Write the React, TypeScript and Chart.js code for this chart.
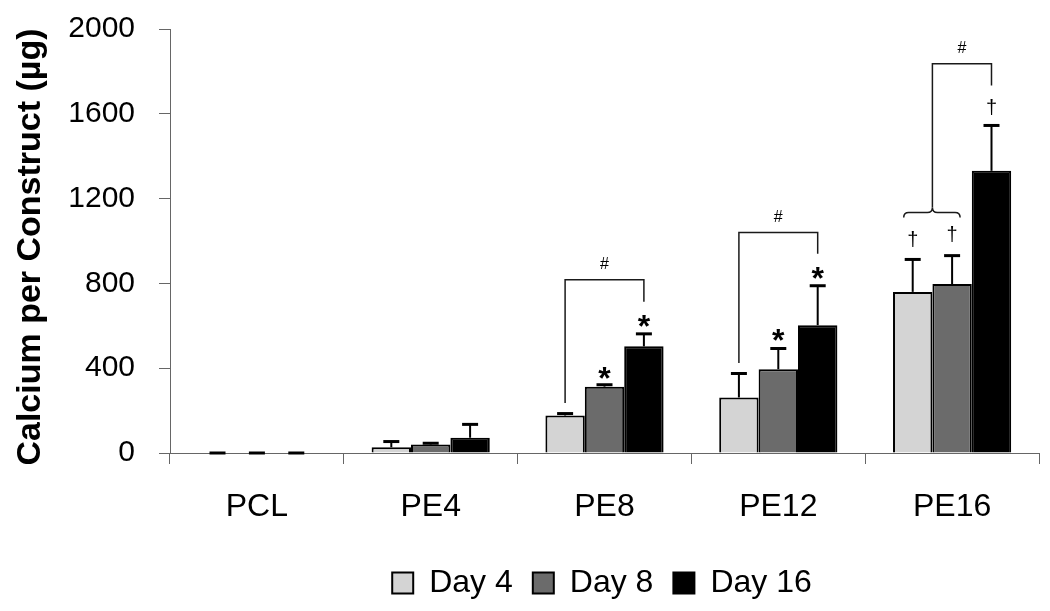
import React, { useEffect, useRef } from 'react';
import { Chart, registerables } from 'chart.js';

Chart.register(...registerables);

const categories = ['PCL', 'PE4', 'PE8', 'PE12', 'PE16'];
const seriesNames = ['Day 4', 'Day 8', 'Day 16'];
const day4 = [0, 27, 177, 262, 760];
const day8 = [0, 40, 313, 395, 797];
const day16 = [0, 72, 503, 603, 1331];
const day4Err = [0, 27, 9, 113, 153];
const day8Err = [0, 6, 9, 98, 134];
const day16Err = [0, 63, 59, 186, 214];
const yTicks = [0, 400, 800, 1200, 1600, 2000];
const yTitle = 'Calcium per Construct (µg)';

// significance brackets: category index, left series (one or two -> brace), right series, levels in µg
const brackets = [
  { category: 2, left: [0], right: 2, leftFrom: 236, rightFrom: 713, top: 817, label: '#' },
  { category: 3, left: [0], right: 2, leftFrom: 424, rightFrom: 940, top: 1040, label: '#' },
  { category: 4, left: [0, 1], right: 2, leftFrom: 1135, rightFrom: 1734, top: 1836, label: '#' },
];
// significance symbols above bars: category, series, symbol, centre level in µg
const marks = [
  { category: 2, series: 1, symbol: '*', level: 387 },
  { category: 2, series: 2, symbol: '*', level: 633 },
  { category: 3, series: 1, symbol: '*', level: 567 },
  { category: 3, series: 2, symbol: '*', level: 860 },
  { category: 4, series: 0, symbol: '†', level: 1011 },
  { category: 4, series: 1, symbol: '†', level: 1031 },
  { category: 4, series: 2, symbol: '†', level: 1632 },
];

const values = [day4, day8, day16];
const errors = [day4Err, day8Err, day16Err];
const fills = ['#d4d4d4', '#6b6b6b', '#000000'];
const FONT = "'Liberation Sans', Arial, sans-serif";

const overlayPlugin = {
  id: 'overlay',
  beforeDraw(chart: any) {
    // centre the legend under the plot area rather than the whole canvas
    const lg = chart.legend;
    const area = chart.chartArea;
    if (lg && area) {
      lg.left = area.left - 5;
      lg.right = area.right;
      lg.width = lg.right - lg.left;
    }
  },
  afterDatasetsDraw(chart: any) {
    const ctx = chart.ctx as CanvasRenderingContext2D;
    const ys = chart.scales.y;
    const bar = (s: number, c: number) => chart.getDatasetMeta(s).data[c] as any;
    ctx.save();
    ctx.strokeStyle = '#000';
    ctx.fillStyle = '#000';
    // error bars
    errors.forEach((errs, s) => {
      values[s].forEach((v, c) => {
        const el = bar(s, c);
        const yTop = ys.getPixelForValue(v + errs[c]);
        const yBase = ys.getPixelForValue(v);
        ctx.lineWidth = 2;
        ctx.beginPath();
        ctx.moveTo(el.x, yBase);
        ctx.lineTo(el.x, yTop);
        ctx.stroke();
        ctx.lineWidth = 3;
        ctx.beginPath();
        ctx.moveTo(el.x - 8, yTop);
        ctx.lineTo(el.x + 8, yTop);
        ctx.stroke();
      });
    });
    // brackets
    ctx.strokeStyle = '#1a1a1a';
    ctx.lineWidth = 1.5;
    brackets.forEach((b) => {
      const rx = bar(b.right, b.category).x;
      const yTopPx = ys.getPixelForValue(b.top);
      const yRight = ys.getPixelForValue(b.rightFrom);
      let lx: number;
      let yLeft: number;
      if (b.left.length === 2) {
        const a = bar(b.left[0], b.category);
        const d = bar(b.left[1], b.category);
        const x1 = a.x - 9;
        const x2 = d.x + 8;
        const mid = (a.x + d.x) / 2;
        const yb = ys.getPixelForValue(b.leftFrom);
        ctx.beginPath();
        ctx.moveTo(x1, yb + 5);
        ctx.quadraticCurveTo(x1, yb, x1 + 5, yb);
        ctx.lineTo(mid - 5, yb);
        ctx.quadraticCurveTo(mid, yb, mid, yb - 5);
        ctx.quadraticCurveTo(mid, yb, mid + 5, yb);
        ctx.lineTo(x2 - 5, yb);
        ctx.quadraticCurveTo(x2, yb, x2, yb + 5);
        ctx.stroke();
        lx = mid;
        yLeft = yb - 5;
      } else {
        lx = bar(b.left[0], b.category).x;
        yLeft = ys.getPixelForValue(b.leftFrom);
      }
      ctx.beginPath();
      ctx.moveTo(lx, yLeft);
      ctx.lineTo(lx, yTopPx);
      ctx.lineTo(rx, yTopPx);
      ctx.lineTo(rx, yRight);
      ctx.stroke();
      ctx.font = `16px ${FONT}`;
      ctx.textAlign = 'center';
      ctx.textBaseline = 'alphabetic';
      ctx.fillText(b.label, (lx + rx) / 2, yTopPx - 17 + 6);
    });
    // symbols
    marks.forEach((m) => {
      const el = bar(m.series, m.category);
      const yc = ys.getPixelForValue(m.level);
      ctx.textAlign = 'center';
      ctx.textBaseline = 'alphabetic';
      if (m.symbol === '*') {
        ctx.font = `bold 32px ${FONT}`;
        ctx.fillText(m.symbol, el.x, yc + 18);
      } else {
        ctx.font = `20px ${FONT}`;
        ctx.fillText(m.symbol, el.x, yc + 7);
      }
    });
    ctx.restore();
  },
  afterDraw(chart: any) {
    const ctx = chart.ctx as CanvasRenderingContext2D;
    const area = chart.chartArea;
    ctx.save();
    ctx.translate(40, (area.top + area.bottom) / 2 + 6);
    ctx.rotate(-Math.PI / 2);
    ctx.font = `bold 34px ${FONT}`;
    ctx.fillStyle = '#000';
    ctx.textAlign = 'center';
    ctx.textBaseline = 'alphabetic';
    ctx.fillText(yTitle, 0, 0);
    ctx.restore();
  },
};

export default function App() {
  const ref = useRef<HTMLCanvasElement | null>(null);
  useEffect(() => {
    document.body.style.margin = '0';
    if (!ref.current) return;
    const chart = new Chart(ref.current, {
      type: 'bar',
      data: {
        labels: categories,
        datasets: seriesNames.map((name, i) => ({
          label: name,
          data: values[i],
          backgroundColor: fills[i],
          borderColor: '#000',
          borderWidth: 2,
          borderSkipped: 'start' as const,
          categoryPercentage: 0.68,
          barPercentage: 1,
        })),
      },
      options: {
        responsive: false,
        animation: false,
        layout: { padding: { left: 55, right: 11, top: 29, bottom: 2 } },
        plugins: {
          tooltip: { enabled: false },
          legend: {
            position: 'bottom',
            labels: {
              boxWidth: 21,
              boxHeight: 21,
              padding: 20,
              color: '#000',
              font: { family: FONT, size: 32 },
            },
          },
        },
        scales: {
          x: {
            grid: {
              display: true,
              drawOnChartArea: false,
              drawTicks: true,
              tickLength: 11,
              color: '#666',
              offset: true,
            },
            border: { display: true, color: '#666', width: 1 },
            ticks: { color: '#000', padding: 24, font: { family: FONT, size: 32 } },
            afterFit: (s: any) => {
              s.height = 94;
            },
          },
          y: {
            min: 0,
            max: 2000,
            grid: {
              display: true,
              drawOnChartArea: false,
              drawTicks: true,
              tickLength: 11,
              color: '#666',
            },
            border: { display: true, color: '#666', width: 1 },
            ticks: {
              color: '#000',
              padding: 24,
              font: { family: FONT, size: 30 },
              callback: (v: any) => String(v),
            },
            afterBuildTicks: (s: any) => {
              s.ticks = yTicks.map((v) => ({ value: v }));
            },
            afterFit: (s: any) => {
              s.width = 115;
              s.paddingTop = 0;
              s.paddingBottom = 0;
            },
          },
        },
      },
      plugins: [overlayPlugin],
    });
    return () => chart.destroy();
  }, []);
  return (
    <div style={{ width: 1050, height: 611 }}>
      <canvas ref={ref} width={1050} height={611} />
    </div>
  );
}
